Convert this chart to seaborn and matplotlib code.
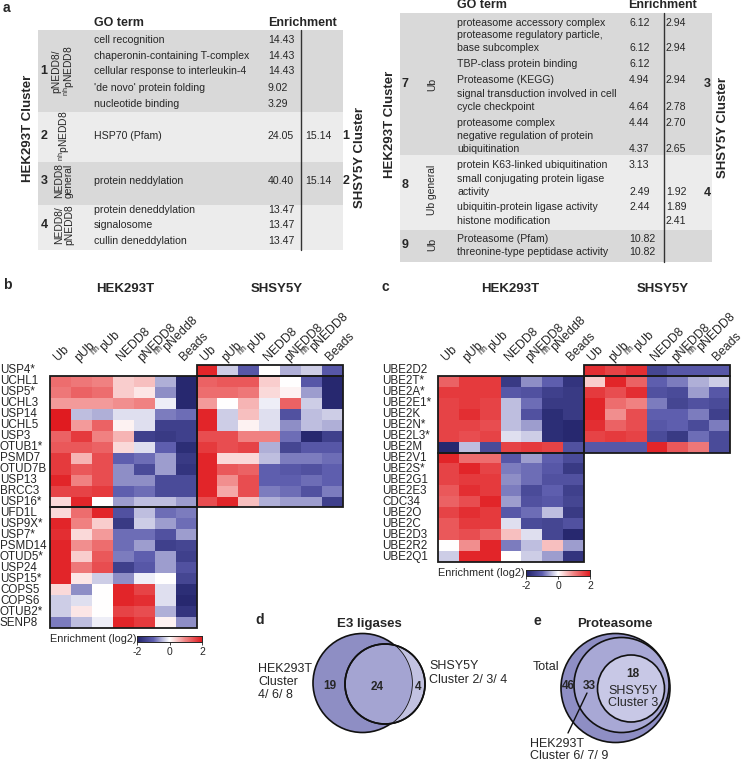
import numpy as np
import pandas as pd
import matplotlib
matplotlib.use('Agg')
import matplotlib.pyplot as plt
import seaborn as sns
from matplotlib.colors import LinearSegmentedColormap
from matplotlib.patches import Rectangle, Circle

nan = np.nan

# ---- panel a: GO term tables ----
left_terms = ['cell recognition', 'chaperonin-containing T-complex', 'cellular response to interleukin-4',
              "'de novo' protein folding", 'nucleotide binding', 'HSP70 (Pfam)', 'protein neddylation',
              'protein deneddylation', 'signalosome', 'cullin deneddylation']
left_hek = ['14.43', '14.43', '14.43', '9.02', '3.29', '24.05', '40.40', '13.47', '13.47', '13.47']
left_shsy = ['', '', '', '', '', '15.14', '15.14', '', '', '']
left_clusters = ['1', '2', '3', '4']
left_groups = ['pNEDD8/\n$^{\\rm nh}$pNEDD8', '$^{\\rm nh}$pNEDD8', 'NEDD8\ngeneral', 'NEDD8/\npNEDD8']
left_shsy_clusters = ['', '1', '2', '']

right_terms = ['proteasome accessory complex', 'proteasome regulatory particle,\nbase subcomplex',
               'TBP-class protein binding', 'Proteasome (KEGG)',
               'signal transduction involved in cell\ncycle checkpoint', 'proteasome complex',
               'negative regulation of protein\nubiquitination', 'protein K63-linked ubiquitination',
               'small conjugating protein ligase\nactivity', 'ubiquitin-protein ligase activity',
               'histone modification', 'Proteasome (Pfam)', 'threonine-type peptidase activity']
right_hek = ['6.12', '6.12', '6.12', '4.94', '4.64', '4.44', '4.37', '3.13', '2.49', '2.44', '', '10.82', '10.82']
right_shsy = ['2.94', '2.94', '', '2.94', '2.78', '2.70', '2.65', '', '1.92', '1.89', '2.41', '', '']
right_clusters = ['7', '8', '9']
right_groups = ['Ub', 'Ub general', 'Ub']
right_shsy_clusters = ['3', '4', '']

# ---- panel b: DUBs ----
dub_genes = ['USP4*', 'UCHL1', 'USP5*', 'UCHL3', 'USP14', 'UCHL5', 'USP3', 'OTUB1*', 'PSMD7', 'OTUD7B',
             'USP13', 'BRCC3', 'USP16*', 'UFD1L', 'USP9X*', 'USP7*', 'PSMD14', 'OTUD5*', 'USP24',
             'USP15*', 'COPS5', 'COPS6', 'OTUB2*', 'SENP8']
dub_hek = [
    [nan, nan, nan, nan, nan, nan, nan],
    [1.2, 1.1, 1.0, 0.4, 0.5, -0.5, -1.9],
    [1.1, 1.3, 1.2, 0.4, 0.2, -0.7, -1.9],
    [0.8, 0.8, 0.8, 0.9, 1.0, -0.1, -1.9],
    [2.0, -0.4, -0.5, -0.2, -0.2, -0.8, -0.9],
    [2.0, 0.8, 1.3, 0.1, -0.2, -1.5, -1.5],
    [1.3, 1.7, 1.0, 0.6, -1.5, -1.6, -1.5],
    [1.4, 1.4, 1.3, 0.3, -0.2, -1.0, -1.8],
    [1.7, 0.6, 1.5, -1.0, -0.9, -0.6, -1.6],
    [1.7, 1.4, 1.5, -0.7, -1.3, -0.6, -1.7],
    [1.9, 1.0, 1.5, -0.7, -0.7, -1.3, -1.3],
    [1.6, 1.6, 1.7, -1.0, -0.9, -1.3, -1.3],
    [0.3, 1.9, 0.0, -0.6, -0.4, -0.4, -0.6],
    [0.3, 1.2, 1.9, -1.2, -0.4, -0.9, -0.8],
    [1.9, 1.0, 0.4, -1.6, -0.3, -0.6, -0.9],
    [1.8, 0.3, 0.8, -0.9, -0.9, -1.2, -0.6],
    [1.9, 0.9, 1.2, -0.9, -0.6, -1.5, -1.4],
    [1.9, 0.4, 1.4, -0.8, -1.0, -0.6, -1.5],
    [1.9, 1.1, 1.5, -1.5, -1.1, -0.6, -1.2],
    [1.9, 0.2, -0.3, -0.7, -0.1, 0.0, -1.4],
    [0.3, -0.7, 0.0, 1.9, 1.6, -0.2, -1.8],
    [-0.3, -0.2, 0.0, 1.9, 1.8, -0.2, -1.9],
    [-0.3, 0.2, 0.0, 1.6, 1.5, -0.5, -1.7],
    [-0.8, -0.4, -0.1, 1.9, 1.7, 0.1, -0.7],
]
dub_shsy = [
    [1.9, -0.3, -1.1, 0.0, -0.5, -0.3, -1.1],
    [1.3, 1.4, 1.4, 0.4, 0.0, -1.1, -1.9],
    [1.2, 1.2, 1.1, 0.3, 0.1, -0.6, -1.9],
    [0.8, 0.0, 0.6, -0.1, 1.3, -0.3, -1.9],
    [1.9, -0.3, 0.5, -0.2, -1.2, -0.4, -0.3],
    [1.9, -0.3, 0.1, -0.2, -0.7, -0.4, -0.5],
    [1.5, 1.5, 1.0, 1.0, -0.9, -1.9, -1.5],
    [1.7, 1.5, 1.6, -0.5, -1.4, -1.1, -1.1],
    [1.9, 0.3, 0.3, -0.4, -0.8, -0.8, -0.9],
    [1.9, 1.4, 1.3, -1.0, -1.1, -1.2, -1.0],
    [1.9, 0.9, 1.5, -1.0, -1.0, -0.9, -1.0],
    [1.9, 0.7, 1.5, -0.8, -0.9, -1.2, -0.8],
    [1.5, 1.9, 0.5, -0.5, -0.6, -0.6, -1.5],
] + [[nan] * 7] * 11

# ---- panel c: E2 enzymes ----
e2_genes = ['UBE2D2', 'UBE2T*', 'UBE2A*', 'UBE2E1*', 'UBE2K', 'UBE2N*', 'UBE2L3*', 'UBE2M', 'UBE2V1',
            'UBE2S*', 'UBE2G1', 'UBE2E3', 'CDC34', 'UBE2O', 'UBE2C', 'UBE2D3', 'UBE2R2', 'UBE2Q1']
e2_hek = [
    [nan, nan, nan, nan, nan, nan, nan],
    [1.3, 1.7, 1.7, -1.6, -0.7, -1.0, -1.7],
    [1.7, 1.7, 1.7, -1.1, -1.2, -1.5, -1.6],
    [1.6, 1.7, 1.6, -0.4, -0.9, -1.6, -1.6],
    [1.6, 1.8, 1.6, -0.4, -1.2, -1.8, -1.6],
    [1.6, 1.6, 1.5, -0.4, -0.6, -1.8, -1.9],
    [1.6, 1.5, 1.6, -0.2, -0.3, -1.8, -1.9],
    [-1.9, -0.4, -1.3, 1.6, 1.7, 1.6, -1.2],
    [1.9, 1.2, 1.2, -1.1, -0.6, -1.0, -1.3],
    [1.6, 1.9, 1.6, -0.8, -0.9, -1.1, -1.6],
    [1.6, 1.7, 1.7, -0.7, -0.9, -1.2, -1.2],
    [1.4, 1.8, 1.7, -0.8, -1.3, -1.0, -1.5],
    [1.3, 1.5, 1.9, -0.6, -1.2, -1.1, -1.4],
    [1.6, 1.8, 1.7, -1.1, -0.9, -0.4, -1.6],
    [1.4, 1.7, 1.7, -0.2, -1.3, -1.4, -1.2],
    [1.4, 1.5, 1.3, 0.5, -0.2, -1.4, -1.9],
    [0.0, 0.9, 1.9, -0.8, -0.4, 0.5, -0.6],
    [-0.3, 1.9, 1.9, 0.0, -0.3, -0.6, -1.7],
]
e2_shsy = [
    [1.8, 1.6, 1.8, -1.4, -1.1, -1.1, -1.1],
    [0.4, 1.9, 1.3, -1.0, -0.8, -0.5, -0.3],
    [1.7, 1.5, 1.8, -1.2, -1.3, -0.6, -1.1],
    [1.9, 1.2, 1.0, -0.8, -1.4, -1.2, -1.3],
    [1.9, 0.9, 1.5, -1.0, -1.0, -0.8, -1.5],
    [1.8, 1.3, 1.5, -1.1, -1.0, -1.3, -0.8],
    [1.6, 1.7, 1.6, -1.3, -1.6, -0.9, -1.3],
    [-1.1, -1.1, -1.1, 1.9, 1.4, 1.1, -1.3],
] + [[nan] * 7] * 10

hek_cols = ['Ub', 'pUb', '$^{\\rm nh}$pUb', 'NEDD8', 'pNEDD8', '$^{\\rm nh}$pNedd8', 'Beads']
shsy_cols = ['Ub', 'pUb', '$^{\\rm nh}$pUb', 'NEDD8', 'pNEDD8', '$^{\\rm nh}$pNEDD8', 'Beads']

# ---- panels d, e: Venn counts ----
e3_counts = ['19', '24', '4']
prot_counts = ['46', '33', '18']

# ---------------------------------------------------------------
sns.set_style('white')
plt.rcParams['font.family'] = ['Liberation Sans', 'DejaVu Sans']
plt.rcParams['mathtext.fontset'] = 'custom'
plt.rcParams['mathtext.rm'] = 'Liberation Sans'
plt.rcParams['mathtext.it'] = 'Liberation Sans:italic'
plt.rcParams['mathtext.bf'] = 'Liberation Sans:bold'

W, H = 745, 762
fig = plt.figure(figsize=(W / 100, H / 100), dpi=100)


def fbox(x0, y0, x1, y1):
    return [x0 / W, 1 - y1 / H, (x1 - x0) / W, (y1 - y0) / H]


canvas = fig.add_axes([0, 0, 1, 1])
canvas.set_xlim(0, W)
canvas.set_ylim(H, 0)
canvas.axis('off')

DARK, LIGHT = '#d9d9d9', '#ececec'
FS = 7.6


def txt(x, y, s, **kw):
    kw.setdefault('fontsize', FS)
    kw.setdefault('va', 'center')
    canvas.text(x, y, s, **kw)


# ---- table left ----
txt(3, 8, 'a', fontsize=10, fontweight='bold')
left_edges = [30, 112, 162, 205, 250]
left_y = [40, 56, 71, 88, 104, 136, 181, 210, 225, 241]
for i in range(4):
    canvas.add_patch(Rectangle((38, left_edges[i]), 305, left_edges[i + 1] - left_edges[i],
                               color=DARK if i % 2 == 0 else LIGHT, lw=0))
    yc = [71, 136, 181, 225][i]
    txt(44, yc, left_clusters[i], fontsize=9, fontweight='bold', ha='center')
    txt(64, yc, left_groups[i], rotation=90, ha='center', fontsize=7.4, linespacing=1.0)
    if left_shsy_clusters[i]:
        txt(346, yc, left_shsy_clusters[i], fontsize=9, fontweight='bold', ha='center')
canvas.plot([301, 301], [30, 250], color='#333333', lw=1.0)
txt(94, 23, 'GO term', fontsize=9, fontweight='bold')
txt(268, 23, 'Enrichment', fontsize=9, fontweight='bold')
for term, h, s, y in zip(left_terms, left_hek, left_shsy, left_y):
    txt(94, y, term)
    txt(268, y, h)
    txt(305, y, s)
txt(28, 128, 'HEK293T Cluster', rotation=90, ha='center', fontsize=9.5, fontweight='bold')
txt(360, 157, 'SHSY5Y Cluster', rotation=90, ha='center', fontsize=9.5, fontweight='bold')

# ---- table right ----
right_edges = [13, 155, 230, 262]
right_y = [23, 48, 64, 80, 107, 123, 149, 165, 192, 207, 221, 239, 252]
for i in range(3):
    canvas.add_patch(Rectangle((400, right_edges[i]), 312, right_edges[i + 1] - right_edges[i],
                               color=DARK if i % 2 == 0 else LIGHT, lw=0))
    yc = [84, 185, 245][i]
    txt(405, yc, right_clusters[i], fontsize=9, fontweight='bold', ha='center')
    txt(432, [84, 190, 244][i], right_groups[i], rotation=90, ha='center', fontsize=7.4)
    if right_shsy_clusters[i]:
        txt(707, [84, 193, 0][i], right_shsy_clusters[i], fontsize=9, fontweight='bold', ha='center')
canvas.plot([664, 664], [13, 262], color='#333333', lw=1.0)
txt(457, 5, 'GO term', fontsize=9, fontweight='bold')
txt(628, 5, 'Enrichment', fontsize=9, fontweight='bold')
for term, h, s, y in zip(right_terms, right_hek, right_shsy, right_y):
    lines = term.split('\n')
    for k, line in enumerate(lines):
        txt(457, y - 12.8 * (len(lines) - 1 - k), line)
    txt(629, y, h)
    txt(666, y, s)
txt(390, 124, 'HEK293T Cluster', rotation=90, ha='center', fontsize=9.5, fontweight='bold')
txt(723, 127, 'SHSY5Y Cluster', rotation=90, ha='center', fontsize=9.5, fontweight='bold')

# ---- heatmaps ----
cmap = LinearSegmentedColormap.from_list(
    'enr', [(0, '#212369'), (0.25, '#5d5dae'), (0.5, '#ffffff'), (0.75, '#f08282'), (1, '#e01b20')])


def heat(genes, hek, shsy, box, cbox, boxes, titles, ypad):
    data = pd.DataFrame(np.hstack([np.array(hek, float), np.array(shsy, float)]), index=genes)
    ax = fig.add_axes(fbox(*box))
    cax = fig.add_axes(fbox(*cbox))
    sns.heatmap(data, ax=ax, cmap=cmap, vmin=-2, vmax=2, xticklabels=hek_cols + shsy_cols,
                yticklabels=genes, cbar_ax=cax,
                cbar_kws={'orientation': 'horizontal', 'ticks': [-2, 0, 2]})
    ax.patch.set_alpha(0)
    ax.xaxis.tick_top()
    ax.set_xticklabels(hek_cols + shsy_cols, rotation=45, ha='left', rotation_mode='anchor', fontsize=8.8)
    ax.set_yticklabels(genes, rotation=0, fontsize=8.4, ha='left')
    ax.tick_params(axis='x', length=0, pad=1)
    ax.tick_params(axis='y', length=0, pad=ypad)
    ax.set_xlabel('')
    ax.set_ylabel('')
    for x0, y0, w, h in boxes:
        ax.add_patch(Rectangle((x0, y0), w, h, fill=False, lw=1.3, ec='#1a1a1a', clip_on=False))
    cax.tick_params(labelsize=7.5, length=2.5, pad=1, width=0.6)
    cax.set_xticklabels(['-2', '0', '2'])
    for sp in cax.spines.values():
        sp.set_visible(True)
        sp.set_linewidth(0.6)
    txt(box[0], (cbox[1] + cbox[3]) / 2, 'Enrichment (log2)', fontsize=7.8)
    for (x, y, s) in titles:
        txt(x, y, s, fontsize=9.5, fontweight='bold', ha='center')


txt(3, 285, 'b', fontsize=10, fontweight='bold')
heat(dub_genes, dub_hek, dub_shsy, (50, 365, 343, 628), (137, 636, 202, 642),
     [(0, 1, 7, 12), (0, 13, 7, 11), (7, 0, 7, 1), (7, 1, 7, 12)],
     [(125, 289, 'HEK293T'), (277, 289, 'SHSY5Y')], 50 * 0.72)

txt(381, 287, 'c', fontsize=10, fontweight='bold')
heat(e2_genes, e2_hek, e2_shsy, (438, 365, 730, 562), (526, 570, 590, 576),
     [(0, 1, 7, 7), (0, 8, 7, 10), (7, 0, 7, 1), (7, 1, 7, 7)],
     [(510, 289, 'HEK293T'), (663, 289, 'SHSY5Y')], 56 * 0.72)

# ---- panel d: E3 ligases Venn ----
txt(255, 620, 'd', fontsize=10, fontweight='bold')
txt(369, 624, 'E3 ligases', fontsize=9.5, fontweight='bold', ha='center')
small = Circle((385, 684), 40, fc='#c2c2e1', ec='#111111', lw=1.2)
big = Circle((362.5, 683), 49.5, fc='#8e8ec4', ec='#111111', lw=1.2)
inter = Circle((385, 684), 40, fc='#a4a4d2', ec='#111111', lw=1.2)
canvas.add_patch(small)
canvas.add_patch(big)
canvas.add_patch(inter)
inter.set_clip_path(big)
canvas.add_patch(Circle((385, 684), 40, fill=False, ec='#111111', lw=1.2))
txt(330, 686, e3_counts[0], fontsize=8.5, fontweight='bold', ha='center')
txt(377, 687, e3_counts[1], fontsize=8.5, fontweight='bold', ha='center')
txt(418, 687, e3_counts[2], fontsize=8.5, fontweight='bold', ha='center')
txt(258, 682, 'HEK293T\nCluster\n4/ 6/ 8', fontsize=9, linespacing=1.15)
txt(429, 673, 'SHSY5Y\nCluster 2/ 3/ 4', fontsize=9, linespacing=1.15)

# ---- panel e: Proteasome Venn ----
txt(533, 621, 'e', fontsize=10, fontweight='bold')
txt(615, 624, 'Proteasome', fontsize=9.5, fontweight='bold', ha='center')
canvas.add_patch(Circle((615.5, 688), 54.5, fc='#8e8ec4', ec='#111111', lw=1.2))
canvas.add_patch(Circle((621.5, 685), 47.5, fc='#a8a8d5', ec='#111111', lw=1.2))
canvas.add_patch(Circle((631, 688.5), 33.5, fc='#c8c8e6', ec='#111111', lw=1.2))
txt(568, 686, prot_counts[0], fontsize=8.5, fontweight='bold', ha='center')
txt(589, 686, prot_counts[1], fontsize=8.5, fontweight='bold', ha='center')
txt(633, 674, prot_counts[2], fontsize=8.5, fontweight='bold', ha='center')
txt(633, 697, 'SHSY5Y\nCluster 3', fontsize=9, ha='center', linespacing=1.1)
txt(533, 667, 'Total', fontsize=9)
canvas.plot([587, 568], [693, 733], color='#111111', lw=1.0)
txt(530, 750, 'HEK293T\nCluster 6/ 7/ 9', fontsize=9, linespacing=1.1)

fig.savefig('out.png', dpi=100)
